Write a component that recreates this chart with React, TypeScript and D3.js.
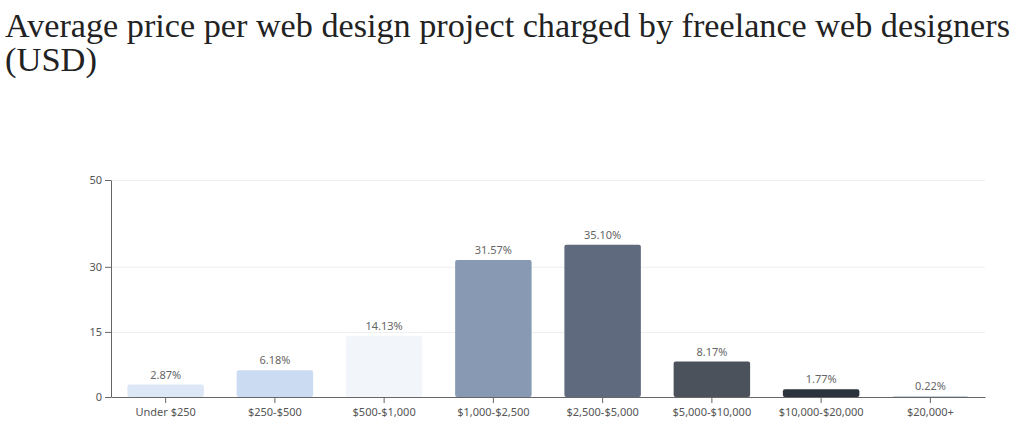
import React, { useEffect, useRef } from "react";
import * as d3 from "d3";

const categories = [
  "Under $250",
  "$250-$500",
  "$500-$1,000",
  "$1,000-$2,500",
  "$2,500-$5,000",
  "$5,000-$10,000",
  "$10,000-$20,000",
  "$20,000+",
];
const shares = [2.87, 6.18, 14.13, 31.57, 35.1, 8.17, 1.77, 0.22];
const barColors = [
  "#dde8f6",
  "#cbdcf2",
  "#f2f6fb",
  "#8799b3",
  "#5f6a7e",
  "#4c525c",
  "#2d333c",
  "#c5ceda",
];
const yTicks = [0, 15, 30, 50];

const WIDTH = 1024;
const HEIGHT = 427;

export default function App() {
  const svgRef = useRef<SVGSVGElement>(null);

  useEffect(() => {
    document.body.style.margin = "0";
    if (!svgRef.current) return;

    const svg = d3.select(svgRef.current);
    svg.selectAll("*").remove();

    const margin = { top: 180, right: 39, bottom: 30, left: 111 };
    const innerWidth = WIDTH - margin.left - margin.right;
    const innerHeight = HEIGHT - margin.top - margin.bottom;

    // Title
    const title = svg
      .append("text")
      .attr("font-family", "'Liberation Serif', 'DejaVu Serif', serif")
      .attr("font-size", 34)
      .attr("fill", "#222");
    title
      .append("tspan")
      .attr("x", 5)
      .attr("y", 37)
      .attr("textLength", 1005)
      .attr("lengthAdjust", "spacingAndGlyphs")
      .text("Average price per web design project charged by freelance web designers");
    title
      .append("tspan")
      .attr("x", 5)
      .attr("y", 71)
      .attr("textLength", 92)
      .attr("lengthAdjust", "spacingAndGlyphs")
      .text("(USD)");

    const g = svg
      .append("g")
      .attr("transform", `translate(${margin.left},${margin.top})`);

    const x = d3
      .scaleBand<string>()
      .domain(categories)
      .range([0, innerWidth])
      .paddingInner(0.3)
      .paddingOuter(0.15);

    const y = d3.scaleLinear().domain([0, 50]).range([innerHeight, 0]);

    // Grid
    g.selectAll(".grid")
      .data(yTicks.filter((t) => t > 0))
      .enter()
      .append("line")
      .attr("x1", 0)
      .attr("x2", innerWidth)
      .attr("y1", (d) => y(d) + 0.5)
      .attr("y2", (d) => y(d) + 0.5)
      .attr("stroke", "#eeeeee");

    // Bars
    g.selectAll(".bar")
      .data(shares)
      .enter()
      .append("rect")
      .attr("x", (_, i) => x(categories[i])!)
      .attr("y", (d) => y(d))
      .attr("width", x.bandwidth())
      .attr("height", (d) => innerHeight - y(d))
      .attr("rx", 2)
      .attr("fill", (_, i) => barColors[i]);

    // Value labels
    g.selectAll(".label")
      .data(shares)
      .enter()
      .append("text")
      .attr("x", (_, i) => x(categories[i])! + x.bandwidth() / 2)
      .attr("y", (d) => y(d) - 6)
      .attr("text-anchor", "middle")
      .attr("font-family", "'Noto Sans', sans-serif")
      .attr("font-size", 11)
      .attr("fill", "#666")
      .text((d) => `${d.toFixed(2)}%`);

    // Axes
    const xAxis = g
      .append("g")
      .attr("transform", `translate(0,${innerHeight})`)
      .call(d3.axisBottom(x).tickSize(6).tickSizeOuter(0));
    xAxis
      .selectAll("text")
      .attr("font-family", "'Noto Sans', sans-serif")
      .attr("font-size", 11)
      .attr("fill", "#555")
      .attr("dy", "0.9em");

    const yAxis = g
      .append("g")
      .call(d3.axisLeft(y).tickValues(yTicks).tickSize(6).tickSizeOuter(0));
    yAxis
      .selectAll("text")
      .attr("font-family", "'Noto Sans', sans-serif")
      .attr("font-size", 11)
      .attr("fill", "#555");

    g.selectAll(".domain, .tick line").attr("stroke", "#666");
  }, []);

  return <svg ref={svgRef} width={WIDTH} height={HEIGHT} style={{ display: "block" }} />;
}
